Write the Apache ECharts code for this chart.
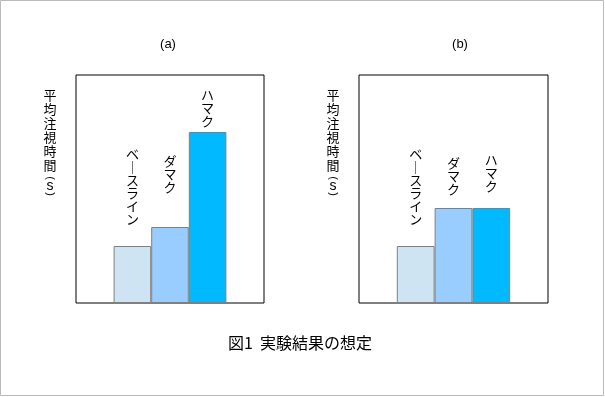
<!DOCTYPE html>
<html><head><meta charset="utf-8">
<script src="https://cdn.jsdelivr.net/npm/echarts@6/dist/echarts.min.js"></script>
<style>html,body{margin:0;padding:0;background:#fff}#c{width:605px;height:397px}</style>
</head><body><div id="c"></div>
<script>
const categories = ['ベースライン', 'ダマク', 'ハマク'];
const valuesA = [3, 4, 9];
const valuesB = [3, 5, 5];
const panelTitles = ['(a)', '(b)'];
const yAxisLabel = '平均注視時間';
const yAxisUnit = ['(', 's', ')'];
const caption = '図1  実験結果の想定';

const colors = ['#cfe4f3', '#99ccff', '#00b9ff'];
const labelGapA = [20, 33, 4];
const labelGapB = [20, 12, 15];
const vert = s => s.replace(/ー/g, '｜').split('').join('\n');

const padCats = ['', ...categories, ''];
function makeData(vals, gaps) {
  return [null, ...vals.map((v, i) => ({
    value: v,
    itemStyle: { color: colors[i] },
    label: { distance: gaps[i] }
  })), null];
}
const grids = [
  { left: 76, top: 75, width: 188, height: 228 },
  { left: 359, top: 75, width: 189, height: 228 }
];
const font = '"Noto Sans CJK JP", sans-serif';
const latin = '"Liberation Sans", Arial, sans-serif';
const yLabelX = [50, 333];

const unitGraphics = [];
yLabelX.forEach(x => {
  unitGraphics.push({ type: 'text', x: x, y: 178, rotation: -Math.PI / 2, silent: true,
    style: { text: yAxisUnit[0], fontSize: 11, fontFamily: latin, fill: '#000', align: 'center', verticalAlign: 'middle' } });
  unitGraphics.push({ type: 'text', x: x, y: 186, silent: true,
    style: { text: yAxisUnit[1], fontSize: 14, fontFamily: latin, fill: '#000', align: 'center', verticalAlign: 'middle' } });
  unitGraphics.push({ type: 'text', x: x, y: 194, rotation: -Math.PI / 2, silent: true,
    style: { text: yAxisUnit[2], fontSize: 11, fontFamily: latin, fill: '#000', align: 'center', verticalAlign: 'middle' } });
});

const chart = echarts.init(document.getElementById('c'), null, { renderer: 'canvas' });
chart.setOption({
  backgroundColor: '#fff',
  animation: false,
  title: [
    { text: panelTitles[0], left: 168, top: 38, padding: 0, textAlign: 'center', textStyle: { fontSize: 13, fontWeight: 'normal', color: '#000', fontFamily: latin } },
    { text: panelTitles[1], left: 460, top: 38, padding: 0, textAlign: 'center', textStyle: { fontSize: 13, fontWeight: 'normal', color: '#000', fontFamily: latin } },
    { text: vert(yAxisLabel), left: yLabelX[0], top: 88, padding: 0, textAlign: 'center', textStyle: { fontSize: 13, lineHeight: 14, fontWeight: 'normal', color: '#000', fontFamily: font } },
    { text: vert(yAxisLabel), left: yLabelX[1], top: 88, padding: 0, textAlign: 'center', textStyle: { fontSize: 13, lineHeight: 14, fontWeight: 'normal', color: '#000', fontFamily: font } },
    { text: caption, left: 300, top: 335, padding: 0, textAlign: 'center', textStyle: { fontSize: 16, fontWeight: 'normal', color: '#000', fontFamily: font } }
  ],
  graphic: [
    { type: 'rect', shape: { x: 0.5, y: 0.5, width: 603, height: 395 }, style: { fill: null, stroke: '#bbbbbb', lineWidth: 1 }, silent: true },
    ...unitGraphics
  ],
  grid: grids.map(g => Object.assign({ show: true, borderColor: '#000', borderWidth: 1, backgroundColor: 'transparent', containLabel: false }, g)),
  xAxis: [0, 1].map(i => ({
    type: 'category', gridIndex: i, data: padCats,
    axisLine: { show: false }, axisTick: { show: false }, axisLabel: { show: false }, splitLine: { show: false }
  })),
  yAxis: [0, 1].map(i => ({
    type: 'value', gridIndex: i, min: 0, max: 12,
    axisLine: { show: false }, axisTick: { show: false }, axisLabel: { show: false }, splitLine: { show: false }
  })),
  series: [[valuesA, labelGapA], [valuesB, labelGapB]].map(([vals, gaps], i) => ({
    type: 'bar', xAxisIndex: i, yAxisIndex: i,
    data: makeData(vals, gaps),
    barWidth: '100%', barGap: '0%',
    itemStyle: { borderColor: '#808080', borderWidth: 1 },
    label: {
      show: true, position: 'top',
      formatter: p => vert(p.name),
      fontSize: 13, lineHeight: 13, color: '#000', fontFamily: font
    }
  }))
});
</script></body></html>
